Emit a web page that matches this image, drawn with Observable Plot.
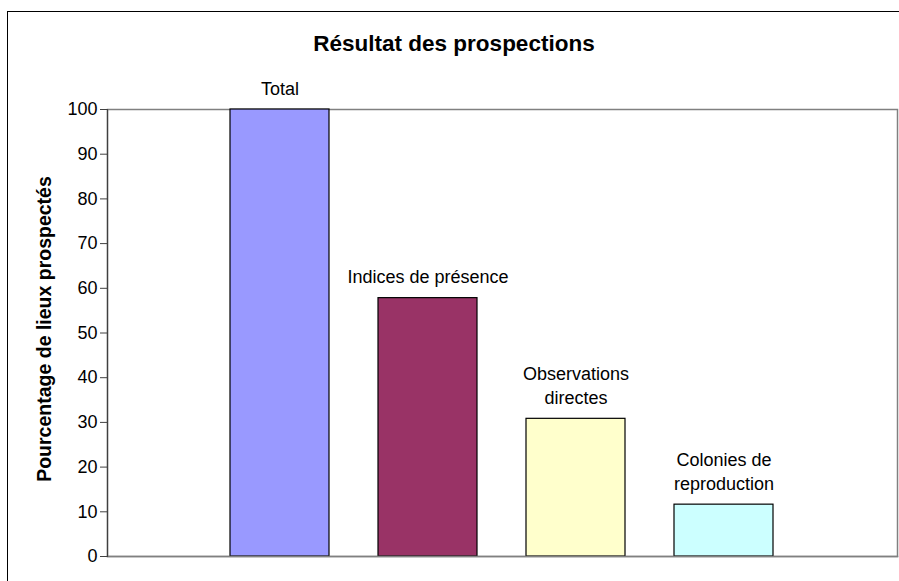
<!DOCTYPE html>
<html>
<head>
<meta charset="utf-8">
<script src="https://cdn.jsdelivr.net/npm/d3@7"></script>
<script src="https://cdn.jsdelivr.net/npm/@observablehq/plot@0.6"></script>
<style>
  html, body { margin: 0; padding: 0; background: #fff; overflow: hidden; }
  body { font-family: "Liberation Sans", Arial, sans-serif; width: 899px; height: 581px; position: relative; }
  #border { position: absolute; left: 7px; top: 11px; width: 1000px; height: 1000px; border-left: 1px solid #000; border-top: 1px solid #000; box-sizing: border-box; }
  #title { position: relative; height: 62px; width: 908px; }
  #title span { position: absolute; left: 0; right: 0; top: 33px; text-align: center; font-weight: bold; font-size: 22.5px; line-height: 22.5px; color: #000; }
  #chart { position: relative; }
</style>
</head>
<body>
<div id="border"></div>
<div id="title"><span>Résultat des prospections</span></div>
<div id="chart"></div>
<script>
const categories = ["Total", "Indices de présence", "Observations directes", "Colonies de reproduction"];
const values = [100, 57.8, 30.8, 11.6];
const barLabels = ["Total", "Indices de présence", "Observations\ndirectes", "Colonies de\nreproduction"];
const colors = ["#9999FF", "#993366", "#FFFFCC", "#CCFFFF"];
const yTicks = [0, 10, 20, 30, 40, 50, 60, 70, 80, 90, 100];
const yTitle = "Pourcentage de lieux prospectés";

const data = categories.map((c, i) => ({cat: c, value: values[i], label: barLabels[i], color: colors[i]}));

const chart = Plot.plot({
  width: 899,
  height: 519,
  marginLeft: 107,
  marginRight: 2,
  marginTop: 47,
  marginBottom: 25,
  style: {fontFamily: "Liberation Sans, Arial, sans-serif", color: "#000", background: "transparent", overflow: "visible"},
  x: {domain: categories, paddingInner: 0.33, paddingOuter: 0.83, axis: null},
  y: {domain: [0, 100], axis: null},
  color: {domain: categories, range: colors},
  marks: [
    Plot.frame({stroke: "#808080", strokeWidth: 1.5}),
    Plot.barY(data, {x: "cat", y: "value", fill: "cat", stroke: "#000", strokeWidth: 1.2}),
    Plot.frame({anchor: "bottom", stroke: "#808080", strokeWidth: 1.5}),
    Plot.frame({anchor: "left", stroke: "#404040", strokeWidth: 1.2}),
    Plot.axisY({ticks: yTicks, tickSize: 7, tickPadding: 3, fontSize: 18, stroke: "#404040", label: null, tickFormat: d => String(d)}),
    Plot.text(data, {x: "cat", y: "value", text: "label", lineAnchor: "bottom", dy: -15, lineHeight: 1.32, fontSize: 18, fill: "#000"}),
    Plot.text([yTitle], {frameAnchor: "left", rotate: -90, dx: -63, dy: -4, textAnchor: "middle", text: d => d, fontSize: 19.5, fontWeight: "bold", fill: "#000"})
  ]
});
document.getElementById("chart").appendChild(chart);
</script>
</body>
</html>
